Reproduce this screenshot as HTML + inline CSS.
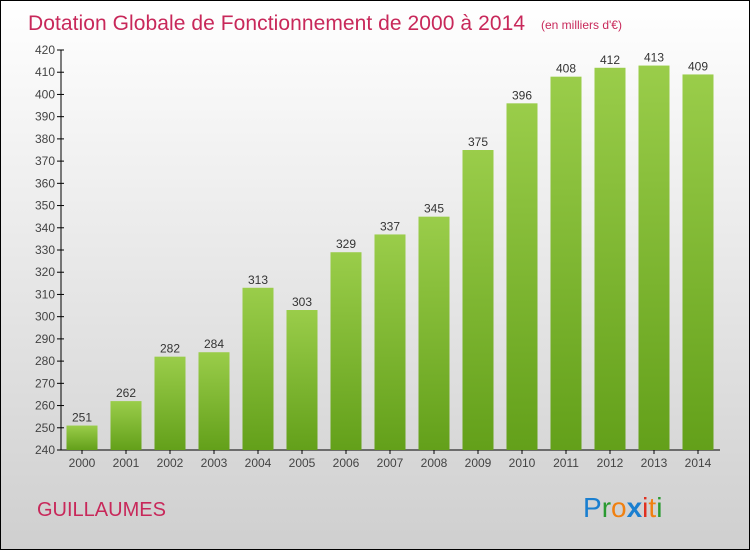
<!DOCTYPE html>
<html><head><meta charset="utf-8"><style>
body{margin:0}
#c{width:748px;height:548px;border:1px solid #000;background:linear-gradient(#ffffff,#cfcfcf);position:relative;overflow:hidden;font-family:"Liberation Sans",sans-serif}
</style></head><body>
<div id="c">
<svg id="s" width="748" height="548" xmlns="http://www.w3.org/2000/svg">
<defs><linearGradient id="g" x1="0" y1="0" x2="0" y2="1"><stop offset="0" stop-color="#9acd4a"/><stop offset="1" stop-color="#63a01a"/></linearGradient></defs>
<text x="27" y="29" font-size="21" fill="#c8285a" textLength="497">Dotation Globale de Fonctionnement de 2000 à 2014</text>
<text x="540" y="28" font-size="12" fill="#c8285a">(en milliers d'€)</text>
<text x="36" y="515" font-size="20" fill="#c8285a">GUILLAUMES</text>
<g font-size="28">
<text x="582" y="516"><tspan fill="#1a7fd0">P</tspan><tspan fill="#2a9a30">r</tspan><tspan fill="#f08010">o</tspan><tspan fill="#1a7fd0" font-weight="bold">x</tspan><tspan fill="#e03020">i</tspan><tspan fill="#f08010">t</tspan><tspan fill="#2a9a30">i</tspan></text></g>
<g id="plot"></g>
</svg></div>
<script>
const years=['2000','2001','2002','2003','2004','2005','2006','2007','2008','2009','2010','2011','2012','2013','2014'];
const values=[251,262,282,284,313,303,329,337,345,375,396,408,412,413,409];
const yTicks=[240,250,260,270,280,290,300,310,320,330,340,350,360,370,380,390,400,410,420];
const NS='http://www.w3.org/2000/svg';
const g=document.getElementById('plot');
const y=v=>449-(v-240)*(400/180);
const x=i=>81+i*44;
function mk(t,a,txt){const e=document.createElementNS(NS,t);for(const k in a)e.setAttribute(k,a[k]);if(txt!==undefined)e.textContent=txt;g.appendChild(e);return e;}
let ax=mk('line',{x1:60,y1:49,x2:60,y2:449,stroke:'#000'});


let bx=mk('line',{x1:60,y1:449,x2:719,y2:449,stroke:'#000'});


yTicks.forEach(v=>{
 let t=mk('line',{x1:56,y1:y(v),x2:63,y2:y(v),stroke:'#000'});
 
 
 let l=mk('text',{x:54,y:y(v)+4,'font-size':12,fill:'#444','text-anchor':'end'},v);
 
 
});
years.forEach((yr,i)=>{
 let b=mk('rect',{x:x(i)-15.5,y:y(values[i]),width:31,height:449-y(values[i]),fill:'url(#g)'});
 
 
 let v=mk('text',{x:x(i),y:y(values[i])-4,'font-size':12,fill:'#333','text-anchor':'middle'},values[i]);
 
 
 let t=mk('line',{x1:x(i),y1:449,x2:x(i),y2:453,stroke:'#000'});
 
 
 let l=mk('text',{x:x(i),y:466,'font-size':12,fill:'#444','text-anchor':'middle'},yr);
 
 
});
</script>
</body></html>
